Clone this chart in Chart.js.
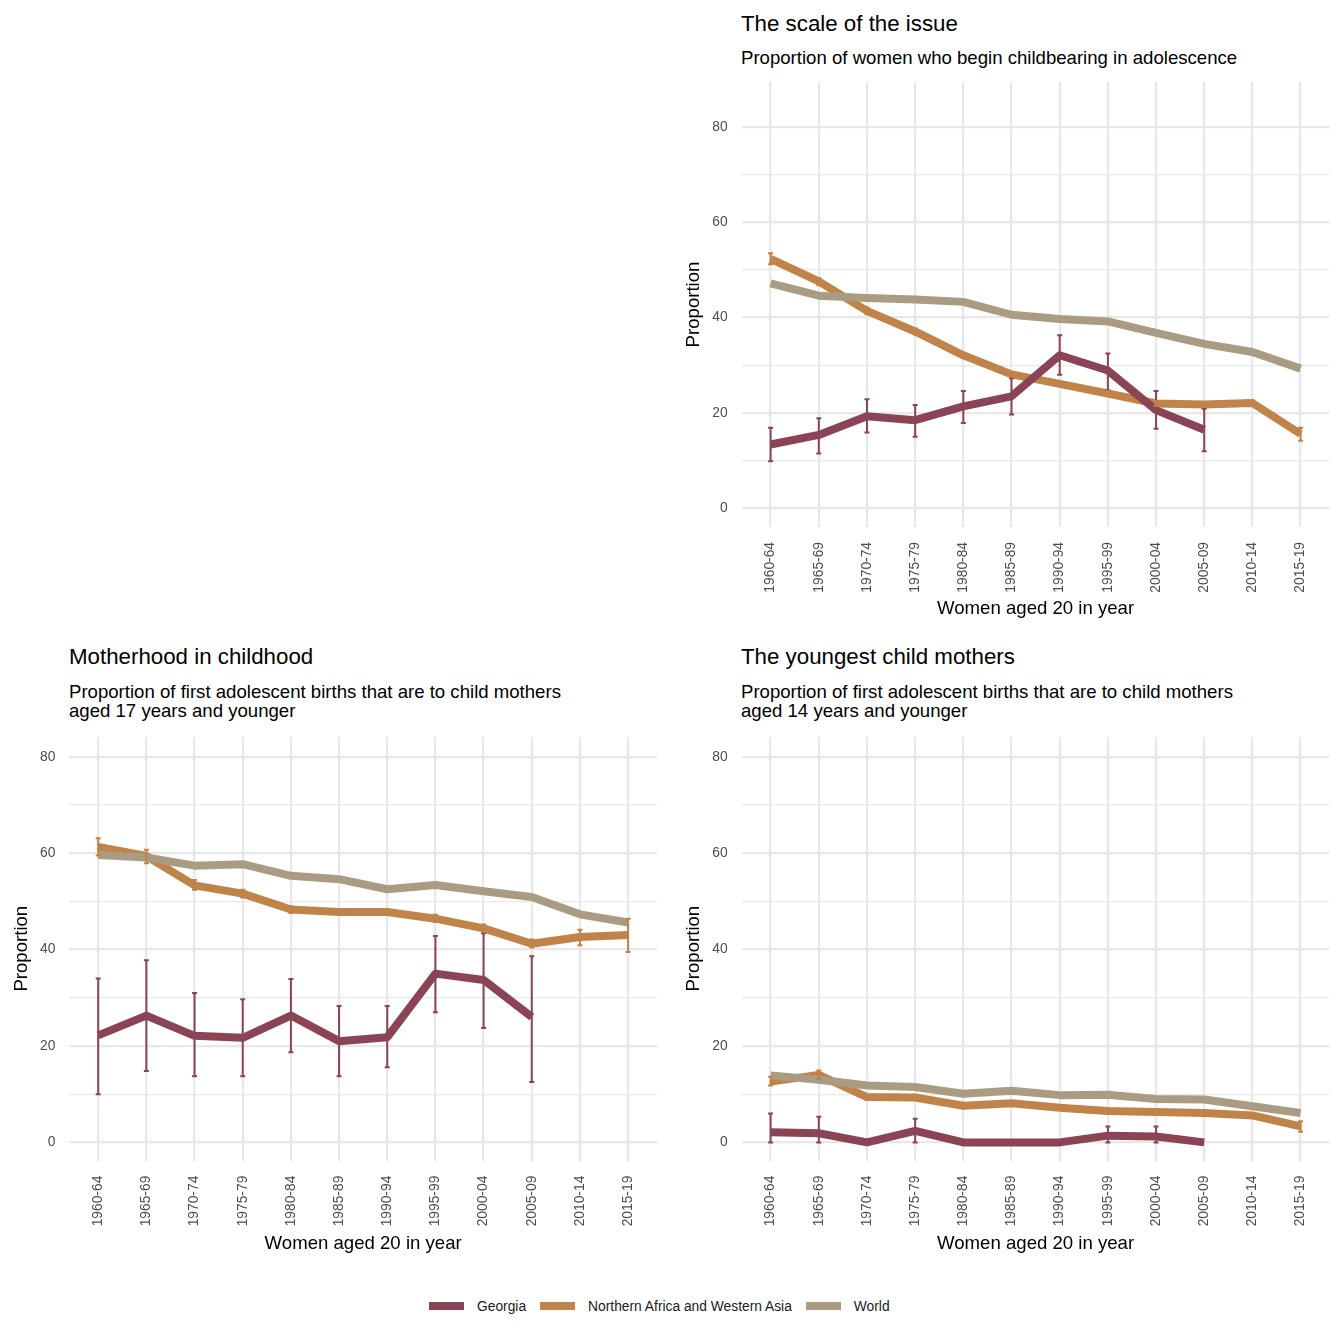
<!DOCTYPE html>
<html>
<head>
<meta charset="utf-8">
<script src="https://cdn.jsdelivr.net/npm/chart.js@4.4.1/dist/chart.umd.min.js"></script>
<style>
  body { margin: 0; background: #fff; font-family: "Liberation Sans", Arial, sans-serif; }
  #page { position: relative; width: 1344px; height: 1344px; overflow: hidden; }
  canvas { position: absolute; }
  .title { position: absolute; font-size: 22.3px; line-height: 22px; color: #000; white-space: nowrap; }
  .subtitle { position: absolute; font-size: 18.6px; line-height: 19px; color: #000; white-space: nowrap; }
  #legend { position: absolute; left: 429px; top: 1296px; height: 20px; display: flex; align-items: center; font-size: 13.8px; color: #1a1a1a; }
  #legend .key { width: 35px; height: 8px; margin-right: 13px; }
  #legend .lbl { margin-right: 14px; }
</style>
</head>
<body>
<div id="page">
  <div class="title" style="left:741px; top:13px;">The scale of the issue</div>
  <div class="subtitle" style="left:741px; top:48px;">Proportion of women who begin childbearing in adolescence</div>
  <canvas id="scaleChart" width="672" height="554" style="left:672px; top:70px;"></canvas>

  <div class="title" style="left:69px; top:646px;">Motherhood in childhood</div>
  <div class="subtitle" style="left:69px; top:682px;">Proportion of first adolescent births that are to child mothers<br>aged 17 years and younger</div>
  <canvas id="childChart" width="672" height="534" style="left:0px; top:725px;"></canvas>

  <div class="title" style="left:741px; top:646px;">The youngest child mothers</div>
  <div class="subtitle" style="left:741px; top:682px;">Proportion of first adolescent births that are to child mothers<br>aged 14 years and younger</div>
  <canvas id="youngChart" width="672" height="534" style="left:672px; top:725px;"></canvas>

  <div id="legend"></div>
</div>
<script>
Chart.defaults.font.family = '"Liberation Sans", Arial, sans-serif';

// categories and ticks
const periods = ['1960-64', '1965-69', '1970-74', '1975-79', '1980-84', '1985-89',
                 '1990-94', '1995-99', '2000-04', '2005-09', '2010-14', '2015-19'];
const yGridTicks = [0, 10, 20, 30, 40, 50, 60, 70, 80];
const yLabelTicks = [0, 20, 40, 60, 80];
const seriesNames = ['Georgia', 'Northern Africa and Western Asia', 'World'];
const seriesColors = ['#8b4456', '#c0834a', '#a99c82'];

// The scale of the issue
const scaleGeorgia   = [13.4, 15.4, 19.3, 18.5, 21.4, 23.5, 32.1, 28.9, 20.6, 16.5, null, null];
const scaleGeorgiaLo = [9.9, 11.5, 15.9, 15.0, 17.9, 19.7, 28.0, 24.7, 16.7, 12.0, null, null];
const scaleGeorgiaHi = [16.9, 18.9, 22.9, 21.7, 24.6, 27.3, 36.3, 32.5, 24.6, 20.9, null, null];
const scaleNafwa     = [52.3, 47.6, 41.4, 37.1, 32.1, 28.1, 26.1, 24.1, 22.0, 21.8, 22.1, 15.6];
const scaleNafwaLo   = [51.2, 46.8, 40.7, 36.5, 31.6, 27.6, 25.6, 23.6, 21.5, 21.3, 21.6, 14.2];
const scaleNafwaHi   = [53.5, 48.3, 42.1, 37.7, 32.6, 28.6, 26.6, 24.6, 22.5, 22.3, 22.6, 16.9];
const scaleWorld     = [47.2, 44.6, 44.1, 43.8, 43.3, 40.6, 39.7, 39.2, 36.8, 34.5, 32.8, 29.3];

// Motherhood in childhood
const childGeorgia   = [22.2, 26.3, 22.1, 21.7, 26.3, 21.0, 21.8, 35.0, 33.7, 26.0, null, null];
const childGeorgiaLo = [10.0, 14.8, 13.7, 13.7, 18.7, 13.7, 15.6, 27.0, 23.7, 12.5, null, null];
const childGeorgiaHi = [34.0, 37.8, 31.0, 29.7, 33.9, 28.3, 28.3, 42.8, 43.4, 38.6, null, null];
const childNafwa     = [61.3, 59.4, 53.3, 51.6, 48.3, 47.8, 47.8, 46.4, 44.4, 41.2, 42.6, 43.0];
const childNafwaLo   = [59.5, 57.9, 52.4, 50.8, 47.6, 47.2, 47.2, 45.7, 43.7, 40.4, 40.9, 39.5];
const childNafwaHi   = [63.1, 60.7, 54.4, 52.4, 49.0, 48.4, 48.4, 47.2, 45.2, 42.1, 44.1, 46.4];
const childWorld     = [59.6, 59.1, 57.4, 57.7, 55.3, 54.6, 52.5, 53.4, 52.1, 50.9, 47.3, 45.6];

// The youngest child mothers
const youngGeorgia   = [2.1, 1.9, 0, 2.4, 0, 0, 0, 1.4, 1.2, 0, null, null];
const youngGeorgiaLo = [0, 0, null, 0, null, null, null, 0, 0, null, null, null];
const youngGeorgiaHi = [6.0, 5.3, null, 4.9, null, null, null, 3.3, 3.3, null, null, null];
const youngNafwa     = [12.6, 14.0, 9.4, 9.3, 7.6, 8.1, 7.2, 6.5, 6.3, 6.1, 5.6, 3.3];
const youngNafwaLo   = [11.8, 13.2, 8.9, 8.8, 7.1, 7.6, 6.7, 6.0, 5.8, 5.6, 5.1, 2.2];
const youngNafwaHi   = [13.6, 14.9, 9.9, 9.8, 8.1, 8.6, 7.7, 7.0, 6.8, 6.6, 6.1, 4.4];
const youngWorld     = [13.9, 13.0, 11.8, 11.5, 10.1, 10.7, 9.8, 9.9, 9.0, 8.9, 7.5, 6.1];

// draws the vertical error bars with small caps
const errorBars = {
    id: 'errorBars',
    afterDatasetsDraw(chart) {
        const { ctx, scales: { x, y } } = chart;
        chart.data.datasets.forEach(ds => {
            if (!ds.errLo) return;
            ctx.save();
            ctx.strokeStyle = ds.borderColor;
            ctx.lineWidth = 2;
            ds.errLo.forEach((lo, i) => {
                const hi = ds.errHi[i];
                if (lo == null || hi == null) return;
                const px = x.getPixelForValue(i);
                const top = y.getPixelForValue(hi);
                const bot = y.getPixelForValue(lo);
                ctx.beginPath();
                ctx.moveTo(px, top); ctx.lineTo(px, bot);
                ctx.moveTo(px - 2.5, top); ctx.lineTo(px + 2.5, top);
                ctx.moveTo(px - 2.5, bot); ctx.lineTo(px + 2.5, bot);
                ctx.stroke();
            });
            ctx.restore();
        });
    }
};

function lineSet(idx, values, lo, hi, order) {
    return {
        label: seriesNames[idx],
        data: values.map((v, i) => ({ x: i, y: v })),
        errLo: lo,
        errHi: hi,
        borderColor: seriesColors[idx],
        backgroundColor: seriesColors[idx],
        borderWidth: 8,
        borderCapStyle: 'butt',
        borderJoinStyle: 'round',
        pointRadius: 0,
        tension: 0,
        order: order
    };
}

function makePanel(id, datasets, yMin, yMax, padTop, padRight, yWidth, xHeight) {
    return new Chart(document.getElementById(id), {
        type: 'line',
        data: { datasets: datasets },
        plugins: [errorBars],
        options: {
            responsive: false,
            animation: false,
            layout: { padding: { top: padTop, right: padRight, left: 0, bottom: 0 } },
            plugins: { legend: { display: false }, tooltip: { enabled: false } },
            scales: {
                x: {
                    type: 'linear',
                    min: -0.6,
                    max: periods.length - 0.4,
                    afterBuildTicks: scale => { scale.ticks = periods.map((p, i) => ({ value: i })); },
                    afterFit: scale => {
                        scale.height = xHeight;
                        scale.paddingLeft = 0;
                        scale.paddingRight = 0;
                    },
                    ticks: {
                        callback: v => periods[v],
                        autoSkip: false,
                        maxRotation: 90,
                        minRotation: 90,
                        padding: 15,
                        color: '#4d4d4d',
                        font: { size: 13.8 }
                    },
                    grid: { color: '#e8e8e8', lineWidth: 2.3, drawTicks: false },
                    border: { display: false },
                    title: {
                        display: true,
                        text: 'Women aged 20 in year',
                        color: '#000',
                        font: { size: 18.6 },
                        padding: { top: 0, bottom: 4 }
                    }
                },
                y: {
                    min: yMin,
                    max: yMax,
                    afterBuildTicks: scale => { scale.ticks = yGridTicks.map(v => ({ value: v })); },
                    afterFit: scale => {
                        scale.width = yWidth;
                        scale.paddingTop = 0;
                        scale.paddingBottom = 0;
                    },
                    ticks: {
                        callback: v => yLabelTicks.includes(v) ? v : '',
                        padding: 14,
                        color: '#4d4d4d',
                        font: { size: 13.8 }
                    },
                    grid: {
                        color: '#e8e8e8',
                        lineWidth: ctx => yLabelTicks.includes(ctx.tick.value) ? 2.3 : 1.3,
                        drawTicks: false
                    },
                    border: { display: false },
                    title: {
                        display: true,
                        text: 'Proportion',
                        color: '#000',
                        font: { size: 18.6 },
                        padding: { top: 10.5, bottom: 0 }
                    }
                }
            }
        }
    });
}

makePanel('scaleChart', [
    lineSet(0, scaleGeorgia, scaleGeorgiaLo, scaleGeorgiaHi, 0),
    lineSet(1, scaleNafwa, scaleNafwaLo, scaleNafwaHi, 2),
    lineSet(2, scaleWorld, null, null, 1)
], -3.9, 89.4, 12, 14.5, 69.7, 97);

makePanel('childChart', [
    lineSet(0, childGeorgia, childGeorgiaLo, childGeorgiaHi, 0),
    lineSet(1, childNafwa, childNafwaLo, childNafwaHi, 2),
    lineSet(2, childWorld, null, null, 1)
], -3.8, 84.15, 11.7, 15, 69.3, 98.3);

makePanel('youngChart', [
    lineSet(0, youngGeorgia, youngGeorgiaLo, youngGeorgiaHi, 0),
    lineSet(1, youngNafwa, youngNafwaLo, youngNafwaHi, 2),
    lineSet(2, youngWorld, null, null, 1)
], -3.8, 84.15, 11.7, 14.5, 69.7, 98.3);

// shared legend below the panels
const legendEl = document.getElementById('legend');
seriesNames.forEach((name, i) => {
    const key = document.createElement('span');
    key.className = 'key';
    key.style.background = seriesColors[i];
    const lbl = document.createElement('span');
    lbl.className = 'lbl';
    lbl.textContent = name;
    legendEl.appendChild(key);
    legendEl.appendChild(lbl);
});
</script>
</body>
</html>
